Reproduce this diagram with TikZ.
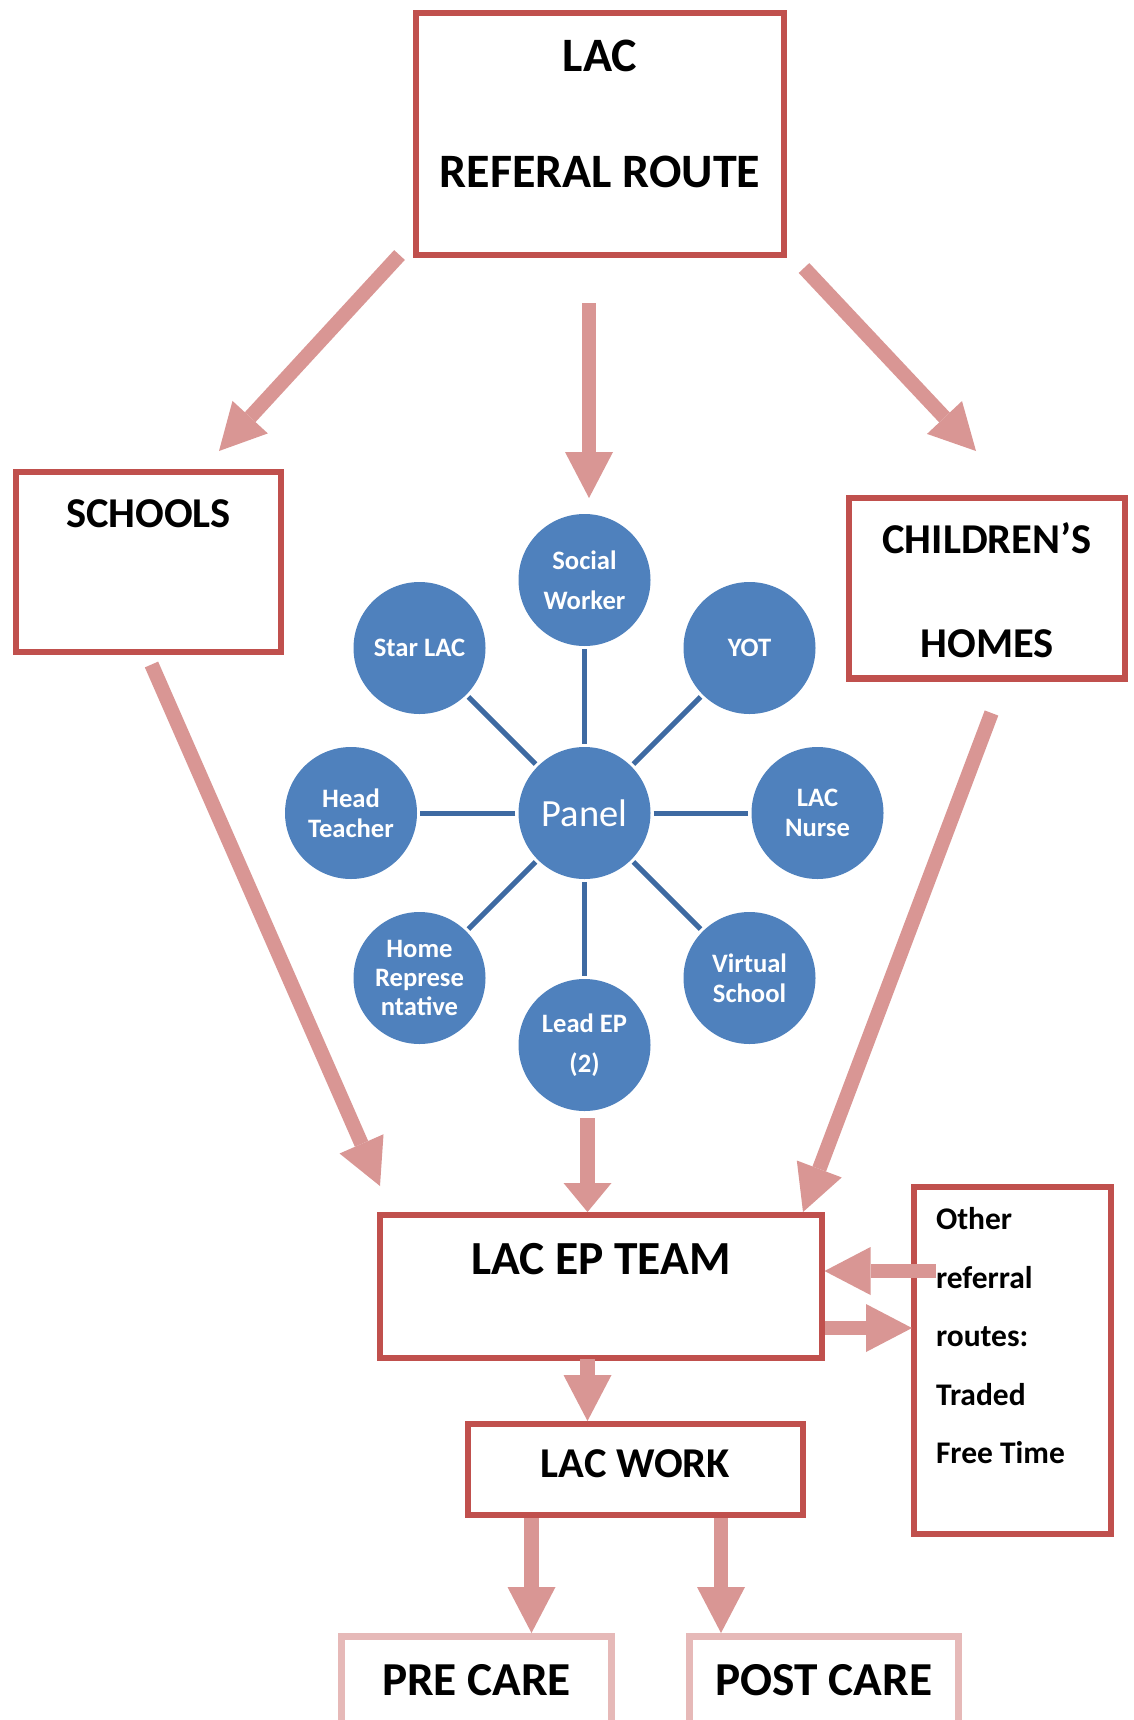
\documentclass[tikz,border=0pt]{standalone}
\usepackage{fontspec}
\setmainfont{Carlito}
\usetikzlibrary{arrows.meta}
\definecolor{boxred}{HTML}{C0504D}
\definecolor{arrowred}{HTML}{D99694}
\definecolor{palered}{HTML}{E6B9B8}
\definecolor{circblue}{HTML}{4F81BD}
\definecolor{spokeblue}{HTML}{3E6AA2}

\begin{document}
\begin{tikzpicture}
	[
	 x = 1pt,
	 y = -1pt,
	 BX/.style = {shape=rectangle,
	              draw = boxred,
	              line width = 6.5pt,
	              align = flush center,
	              anchor = base,
	              inner sep = 0pt
	             },
	 PB/.style = {BX, draw = palered},
	 CI/.style = {shape=circle,
	              fill = circblue,
	              minimum size = 132pt,
	              inner sep = 0pt,
	              align = center,
	              text = white,
	              font = \bfseries\fontsize{26.6}{30}\selectfont
	             },
	 SP/.style = {draw=spokeblue, line width=5pt, shorten <=3pt, shorten >=3pt},
	 AR/.style = {draw=arrowred, line width=14.5pt,
	              -{Triangle[length=46pt,width=48pt,line width=0pt]}}
	]

	\useasboundingbox (0,0) rectangle (1133,1720);

	\newcommand{\TOP}{LAC\\REFERAL ROUTE}
	\newcommand{\CHH}{CHILDREN’S\\HOMES}
	\newcommand{\OTH}{Other\\referral\\routes:\\Traded\\Free Time}

	% boxes
	\node [BX, text width=368pt, text height=59pt, text depth=183pt,
	       font=\bfseries\fontsize{48}{116}\selectfont] (LAC) at (600,72) {\TOP};
	\node [BX, text width=265pt, text height=55pt, text depth=125pt,
	       font=\bfseries\fontsize{42.5}{50}\selectfont] (SCH) at (148.5,527) {SCHOOLS};
	\node [BX, text width=276pt, text height=55pt, text depth=125.5pt,
	       font=\bfseries\fontsize{42.5}{104}\selectfont] (CH) at (987,553) {\CHH};
	\node [BX, text width=442pt, text height=59pt, text depth=84pt,
	       font=\bfseries\fontsize{47.5}{50}\selectfont] (TEAM) at (601,1274) {LAC EP TEAM};
	\node [BX, text width=335pt, text height=53pt, text depth=38pt,
	       font=\bfseries\fontsize{42.5}{50}\selectfont] (WORK) at (635.5,1477) {LAC WORK};
	\node [BX, align=flush left, inner xsep=22pt, text width=153pt, text height=42.6pt, text depth=304.4pt,
	       font=\bfseries\fontsize{31.5}{58.5}\selectfont] (OTH) at (1012.5,1229.6) {\OTH};
	\node [PB, text width=270pt, text height=58.5pt, text depth=100pt,
	       font=\bfseries\fontsize{47.3}{50}\selectfont] (PRE) at (476.5,1695) {PRE CARE};
	\node [PB, text width=269pt, text height=58.5pt, text depth=100pt,
	       font=\bfseries\fontsize{47.3}{50}\selectfont] (POST) at (824,1695) {POST CARE};

	% panel
	\node [CI, font=\fontsize{38.5}{40}\selectfont] (P) at (584.5,813) {Panel};
	\node [CI, font=\bfseries\fontsize{26.6}{40}\selectfont] (SW) at (584.5,580) {Social\\Worker};
	\node [CI] (SL) at (419.5,648) {Star LAC};
	\node [CI] (YOT) at (749.5,648) {YOT};
	\node [CI] (HT) at (351,813) {Head\\Teacher};
	\node [CI] (NUR) at (817.5,813) {LAC\\Nurse};
	\node [CI, font=\bfseries\fontsize{26.6}{29}\selectfont] (HR) at (419.5,978) {Home\\Represe\\ntative};
	\node [CI] (VS) at (749.5,978) {Virtual\\School};
	\node [CI, font=\bfseries\fontsize{26.6}{40}\selectfont] (LEP) at (584.5,1045) {Lead EP\\(2)};

	\draw [SP] (P) -- (SW);
	\draw [SP] (P) -- (SL);
	\draw [SP] (P) -- (YOT);
	\draw [SP] (P) -- (HT);
	\draw [SP] (P) -- (NUR);
	\draw [SP] (P) -- (HR);
	\draw [SP] (P) -- (VS);
	\draw [SP] (P) -- (LEP);

	% arrows
	\coordinate (a1) at (399.5,255);   \coordinate (b1) at (219,451);
	\coordinate (a2) at (589,303);     \coordinate (b2) at (589,498);
	\coordinate (a3) at (804,268);     \coordinate (b3) at (976,451);
	\coordinate (a4) at (151.5,664.5); \coordinate (b4) at (380,1186);
	\coordinate (a5) at (991.5,713);   \coordinate (b5) at (803,1212);
	\coordinate (a6) at (587.5,1118);  \coordinate (b6) at (587.5,1212);
	\coordinate (a7) at (936,1271);    \coordinate (b7) at (824.5,1271);
	\coordinate (a8) at (824.5,1328);  \coordinate (b8) at (912,1328);
	\coordinate (a9) at (587.5,1359);  \coordinate (b9) at (587.5,1421);
	\coordinate (a10) at (531.5,1518); \coordinate (b10) at (531.5,1633);
	\coordinate (a11) at (721,1518);   \coordinate (b11) at (721,1633);

	\draw [AR] (a1) -- (b1);
	\draw [AR] (a2) -- (b2);
	\draw [AR] (a3) -- (b3);
	\draw [AR] (a4) -- (b4);
	\draw [AR] (a5) -- (b5);
	\draw [AR, -{Triangle[length=29pt,width=48pt,line width=0pt]}] (a6) -- (b6);
	\draw [AR] (a7) -- (b7);
	\draw [AR] (a8) -- (b8);
	\draw [AR] (a9) -- (b9);
	\draw [AR] (a10) -- (b10);
	\draw [AR] (a11) -- (b11);
\end{tikzpicture}
\end{document}
